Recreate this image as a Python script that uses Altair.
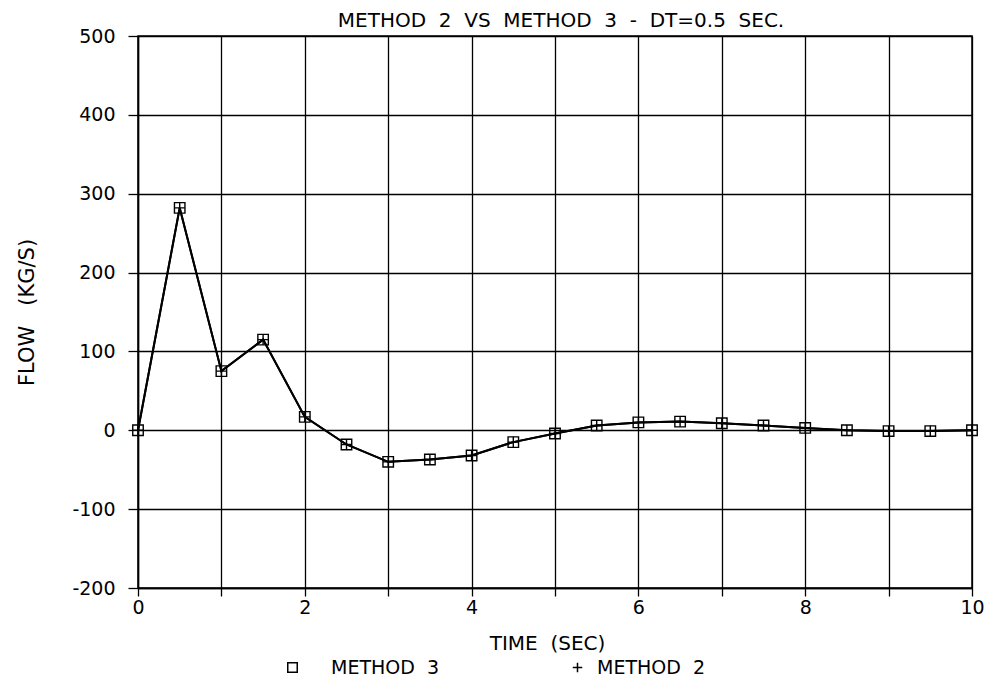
import altair as alt
import pandas as pd

# Time steps (s) and computed flow (kg/s) for the two methods, DT = 0.5 s
time_s = [0.0, 0.5, 1.0, 1.5, 2.0, 2.5, 3.0, 3.5, 4.0, 4.5, 5.0,
          5.5, 6.0, 6.5, 7.0, 7.5, 8.0, 8.5, 9.0, 9.5, 10.0]
flow_method3 = [0, 282, 75, 115, 17, -18, -40, -37, -32, -15, -4,
                6, 10, 11, 9, 6, 3, 0, -1, -1, 0]
flow_method2 = [0, 282, 75, 115, 17, -18, -40, -37, -32, -15, -4,
                6, 10, 11, 9, 6, 3, 0, -1, -1, 0]

NB2 = "\u00a0\u00a0"
name3 = "METHOD" + NB2 + "3"
name2 = "METHOD" + NB2 + "2"
x_ticks = [0, 1, 2, 3, 4, 5, 6, 7, 8, 9, 10]
y_ticks = [-200, -100, 0, 100, 200, 300, 400, 500]

df3 = pd.DataFrame({"t": time_s, "flow": flow_method3, "series": name3})
df2 = pd.DataFrame({"t": time_s, "flow": flow_method2, "series": name2})
df = pd.concat([df3, df2], ignore_index=True)

FONT = "DejaVu Sans"
PLUS = "M-1,0H1M0,-1V1"

x_enc = alt.X(
    "t:Q",
    scale=alt.Scale(domain=[0, 10], nice=False, zero=False),
    axis=alt.Axis(
        values=x_ticks,
        labelExpr="datum.value % 2 === 0 ? datum.label : ''",
        labelFlush=False,
        title="TIME" + NB2 + "(SEC)",
        titleFontSize=20,
        titleX=409,
        titleAlign="center",
        tickSize=8,
        labelPadding=2,
        titlePadding=16,
    ),
)
y_enc = alt.Y(
    "flow:Q",
    scale=alt.Scale(domain=[-200, 500], nice=False),
    axis=alt.Axis(
        values=y_ticks,
        labelExpr="toString(datum.value)",
        labelFlush=False,
        title="FLOW\u00a0\u00a0\u00a0(KG/S)",
        titleFontSize=21,
        tickSize=10,
        labelPadding=13,
        titlePadding=34,
    ),
)


def legend_for(x_pos, offset):
    return alt.Legend(
        title=None,
        orient="none",
        legendX=x_pos,
        legendY=622,
        padding=0,
        labelFont=FONT,
        labelFontSize=19,
        labelColor="black",
        labelOffset=offset,
        symbolSize=90,
        symbolStrokeColor="black",
        symbolStrokeWidth=1.5,
        symbolFillColor="transparent",
    )


lines = alt.Chart(df).mark_line(color="black", strokeWidth=2).encode(
    x=x_enc, y=y_enc, detail="series:N"
)

marker_style = dict(filled=False, color="black", strokeWidth=1.4, size=110, opacity=1)

points3 = alt.Chart(df3).mark_point(**marker_style).encode(
    x=x_enc,
    y=y_enc,
    shape=alt.Shape(
        "series:N",
        scale=alt.Scale(domain=[name3], range=["square"]),
        legend=legend_for(145, 29),
    ),
)

points2 = alt.Chart(df2).mark_point(**marker_style).encode(
    x=x_enc,
    y=y_enc,
    shape=alt.Shape(
        "series:N",
        scale=alt.Scale(domain=[name2], range=[PLUS]),
        legend=legend_for(430, 10),
    ),
)

title_text = NB2.join(["METHOD", "2", "VS", "METHOD", "3", "-", "DT=0.5", "SEC."])

chart = (
    alt.layer(lines, points3, points2)
    .resolve_scale(shape="independent")
    .properties(
        width=834,
        height=552,
        title=alt.TitleParams(
            text=title_text,
            font=FONT,
            fontSize=20,
            fontWeight="normal",
            color="black",
            anchor="middle",
            frame="group",
            dx=6,
            dy=13,
            offset=9,
        ),
        autosize=alt.AutoSizeParams(type="none"),
        padding={"left": 138, "top": 36, "right": 13, "bottom": 100},
    )
    .configure(background="white")
    .configure_view(stroke="black", strokeWidth=1.5)
    .configure_axis(
        labelFont=FONT,
        labelFontSize=19,
        labelColor="black",
        titleFont=FONT,
        titleFontWeight="normal",
        titleColor="black",
        grid=True,
        gridColor="black",
        gridWidth=1.3,
        gridOpacity=1,
        domainColor="black",
        domainWidth=1.5,
        tickColor="black",
        tickWidth=1.3,
    )
)

chart.save("out.html", embed_options={"renderer": "svg", "actions": False})
